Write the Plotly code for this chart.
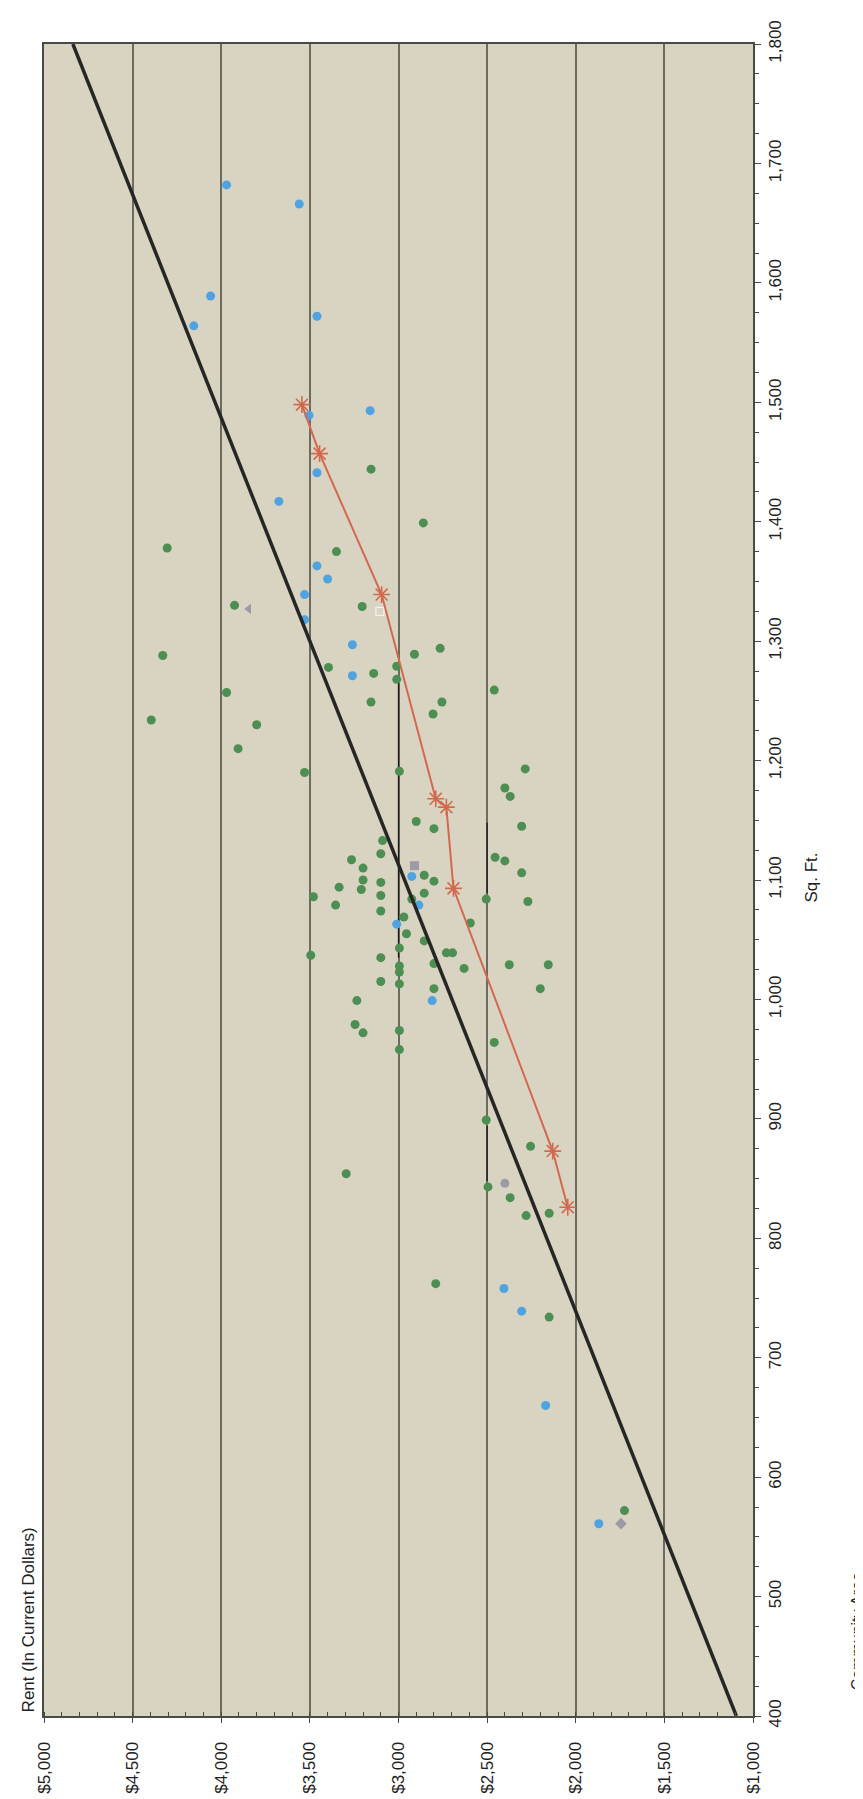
import plotly.graph_objects as go

blue_rent = [3970, 3560, 4060, 4155, 3460, 3505, 3160, 3460, 3675, 3460, 3400, 3530,
             3530, 3260, 3260, 2925, 2885, 3010, 2810, 2405, 2305, 2170, 1870]
blue_sqft = [1682, 1666, 1589, 1564, 1572, 1489, 1493, 1441, 1417, 1363, 1352, 1339,
             1318, 1297, 1271, 1103, 1079, 1063, 999, 758, 739, 660, 561]

green_rent = [3155, 2860, 4305, 3350, 3925, 3205,
              4330, 2765, 2910, 3395, 3140, 3010, 3010, 3970, 2460, 3155, 2755, 2805, 4395, 3800,
              3905, 3530, 2995, 2285, 2400, 2370, 2900, 2800, 2305, 3090, 3100, 3265, 3200, 2455,
              2400, 2305,
              2855, 2800, 3200, 3335, 3210, 3100, 3100, 3480, 2855, 2505, 2270, 3355, 3100, 2970,
              2595, 2955, 2855, 2995, 3495, 2730, 2695, 3100, 2800, 2375, 2155, 2995, 2630, 2995,
              3100, 2995, 2800, 2200, 3235, 3245, 3200, 2995, 2460, 2995, 2925,
              2505, 2255, 3295, 2495, 2370, 2280, 2150, 2790, 2150,
              1725]
green_sqft = [1444, 1399, 1378, 1375, 1330, 1329,
              1288, 1294, 1289, 1278, 1273, 1279, 1268, 1257, 1259, 1249, 1249, 1239, 1234, 1230,
              1210, 1190, 1191, 1193, 1177, 1170, 1149, 1143, 1145, 1133, 1122, 1117, 1110, 1119,
              1116, 1106,
              1104, 1099, 1100, 1094, 1092, 1098, 1087, 1086, 1089, 1084, 1082, 1079, 1074, 1069,
              1064, 1055, 1049, 1043, 1037, 1039, 1039, 1035, 1030, 1029, 1029, 1028, 1026, 1023,
              1015, 1013, 1009, 1009, 999, 979, 972, 974, 964, 958, 1084,
              899, 877, 854, 843, 834, 819, 821, 762, 734,
              572]

grey_rent = [3845, 2910, 2400, 1745]
grey_sqft = [1327, 1112, 846, 561]
grey_symbols = ['triangle-left', 'square', 'circle', 'diamond']

open_rent = [3105]
open_sqft = [1325]

avg_rent = [3545, 3445, 3095, 2790, 2730, 2690, 2130, 2045]
avg_sqft = [1498, 1457, 1339, 1168, 1161, 1093, 873, 826]

#Thin black range bars (rent, low sq. ft., high sq. ft.)
range_rent = [3000, 2500, 2500]
range_lo = [1035, 1089, 848]
range_hi = [1265, 1148, 894]

trend_rent = [1094, 4837]
trend_sqft = [400, 1800]

rent_ticks = [5000, 4500, 4000, 3500, 3000, 2500, 2000, 1500, 1000]
rent_labels = ['$5,000', '$4,500', '$4,000', '$3,500', '$3,000', '$2,500', '$2,000', '$1,500', '$1,000']
sqft_ticks = [400, 500, 600, 700, 800, 900, 1000, 1100, 1200, 1300, 1400, 1500, 1600, 1700, 1800]
sqft_labels = ['400', '500', '600', '700', '800', '900', '1,000', '1,100', '1,200', '1,300',
               '1,400', '1,500', '1,600', '1,700', '1,800']

FONT = 'Liberation Sans, Arial, sans-serif'
W, H = 863, 1799
L, R, T, B = 36, 118, 29, 91

fig = go.Figure()

#range bars
rx, ry = [], []
for r, lo, hi in zip(range_rent, range_lo, range_hi):
  rx += [r, r, None]
  ry += [lo, hi, None]
fig.add_trace(go.Scatter(x = rx, y = ry, mode = 'lines', line = dict(color = '#1a1a1a', width = 1.3), showlegend = False))

fig.add_trace(go.Scatter(x = green_rent, y = green_sqft, mode = 'markers',
                         marker = dict(color = '#4d8f52', size = 9), showlegend = False))
fig.add_trace(go.Scatter(x = blue_rent, y = blue_sqft, mode = 'markers',
                         marker = dict(color = '#4fa3e0', size = 9), showlegend = False))
fig.add_trace(go.Scatter(x = grey_rent, y = grey_sqft, mode = 'markers',
                         marker = dict(color = '#9d9aa8', size = 9, symbol = grey_symbols), showlegend = False))
fig.add_trace(go.Scatter(x = open_rent, y = open_sqft, mode = 'markers',
                         marker = dict(color = '#f4f2ea', size = 8, symbol = 'square-open', line = dict(width = 1.2)),
                         showlegend = False))
fig.add_trace(go.Scatter(x = trend_rent, y = trend_sqft, mode = 'lines',
                         line = dict(color = '#262626', width = 3.5), showlegend = False))
fig.add_trace(go.Scatter(x = avg_rent, y = avg_sqft, mode = 'lines+markers',
                         line = dict(color = '#d2694e', width = 2),
                         marker = dict(symbol = 'asterisk-open', size = 14, color = '#d2694e',
                                       line = dict(color = '#d2694e', width = 1.6)),
                         showlegend = False))

fig.update_layout(
  width = W, height = H, autosize = False,
  margin = dict(l = L, r = R, t = T, b = B, pad = 0),
  paper_bgcolor = 'white', plot_bgcolor = '#d9d4c1',
  font = dict(family = FONT, size = 17, color = '#222222'),
  showlegend = False,
)
fig.update_xaxes(
  range = [5000, 1000], tickvals = rent_ticks, ticktext = rent_labels, tickangle = -90,
  showgrid = True, gridcolor = '#6c6b60', gridwidth = 1.6, zeroline = False,
  showline = True, linecolor = '#4a4a44', linewidth = 2, mirror = True,
  ticks = 'outside', ticklen = 5, tickcolor = '#4a4a44', ticklabelstandoff = 12,
  minor = dict(dtick = 100, ticks = 'inside', ticklen = 4, tickcolor = '#4a4a44', showgrid = False),
  tickfont = dict(size = 17, family = FONT, color = '#222222'),
)
fig.update_yaxes(
  range = [400, 1800], side = 'right', tickvals = sqft_ticks, ticktext = sqft_labels, tickangle = -90,
  showgrid = False, zeroline = False,
  showline = True, linecolor = '#4a4a44', linewidth = 2, mirror = True,
  ticks = 'outside', ticklen = 6, tickcolor = '#4a4a44', ticklabelstandoff = 0,
  minor = dict(dtick = 25, ticks = 'outside', ticklen = 4, tickcolor = '#4a4a44', showgrid = False),
  tickfont = dict(size = 17, family = FONT, color = '#222222'),
)

pw, ph = W - L - R, H - T - B
def px(x, y): return (x - L) / pw, (H - B - y) / ph

ann = [('Rent (In Current Dollars)', 20, 1612, 17), ('Sq. Ft.', 804, 866, 17), ('Community Area', 849, 1623, 16)]
for text, x, y, size in ann:
  ax, ay = px(x, y)
  fig.add_annotation(text = text, x = ax, y = ay, xref = 'paper', yref = 'paper', showarrow = False,
                     textangle = -90, xanchor = 'center', yanchor = 'middle',
                     font = dict(size = size, family = FONT, color = '#222222'))

fig.write_html('out.html')
